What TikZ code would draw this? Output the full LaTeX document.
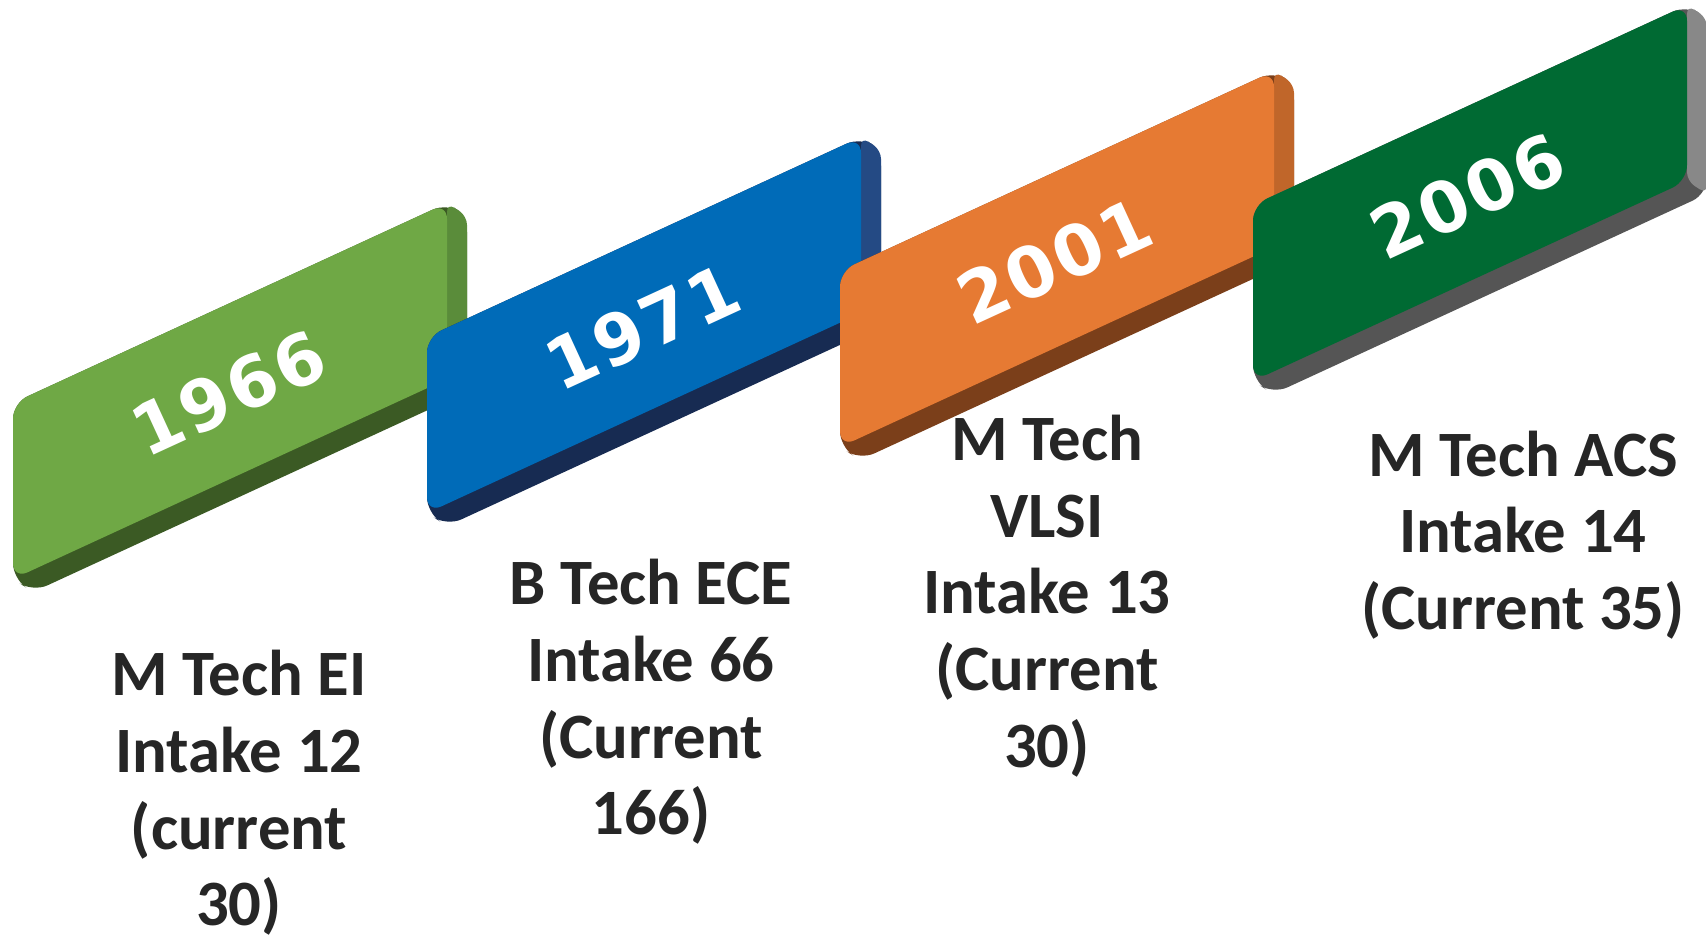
\documentclass[tikz,border=0pt]{standalone}
\usepackage{fontspec}
\setmainfont{Carlito}
\newfontfamily\yearfont[LetterSpace=4]{DejaVu Sans}
\definecolor{ink}{HTML}{262626}
\definecolor{grnface}{HTML}{6FA845}
\definecolor{grnside}{HTML}{5A8C3A}
\definecolor{grnbase}{HTML}{3B5A24}
\definecolor{bluface}{HTML}{006BB8}
\definecolor{bluside}{HTML}{244A84}
\definecolor{blubase}{HTML}{172B52}
\definecolor{orgface}{HTML}{E67A33}
\definecolor{orgside}{HTML}{C0662A}
\definecolor{orgbase}{HTML}{7B3F1A}
\definecolor{dgrface}{HTML}{006A33}
\definecolor{dgrside}{HTML}{888888}
\definecolor{dgrbase}{HTML}{555555}

\begin{document}
\begin{tikzpicture}[
  x=0.01cm, y=-0.01cm,
  slab/.style={fill=#1, rounded corners=4.5pt},
  edge/.style={fill=#1, rounded corners=2.5pt},
  year/.style={text=white, font=\yearfont\bfseries\fontsize{20}{20}\selectfont,
               rotate=24.7, inner sep=0pt},
  lbl/.style={text=ink, font=\bfseries\fontsize{18.4}{21.8}\selectfont,
              align=center, inner sep=0pt},
]
\useasboundingbox (0,0) rectangle (1706,936);

%% ---------------- 1966 ----------------
\fill[slab=grnbase] (13,403) -- ++(434,-200) -- ++(20,13) -- ++(0,176) -- ++(-434,200) -- ++(-20,-13) -- cycle;
\fill[edge=grnside] (447,203) -- ++(20,13) -- ++(0,176) -- ++(-20,-13) -- cycle;
\fill[slab=grnface] (13,403) -- ++(434,-200) -- ++(0,176) -- ++(-434,200) -- cycle;
\node[year] (y1966) at (229,393) {1966};

%% ---------------- 1971 ----------------
\fill[slab=blubase] (427,337) -- ++(434,-200) -- ++(20,13) -- ++(0,176) -- ++(-434,200) -- ++(-20,-13) -- cycle;
\fill[edge=bluside] (861,137) -- ++(20,13) -- ++(0,176) -- ++(-20,-13) -- cycle;
\fill[slab=bluface] (427,337) -- ++(434,-200) -- ++(0,176) -- ++(-434,200) -- cycle;
\node[year] (y1971) at (643,327) {1971};

%% ---------------- 2001 ----------------
\fill[slab=orgbase] (840,271) -- ++(434,-200) -- ++(20,13) -- ++(0,176) -- ++(-434,200) -- ++(-20,-13) -- cycle;
\fill[edge=orgside] (1274,71) -- ++(20,13) -- ++(0,176) -- ++(-20,-13) -- cycle;
\fill[slab=orgface] (840,271) -- ++(434,-200) -- ++(0,176) -- ++(-434,200) -- cycle;
\node[year] (y2001) at (1055,261) {2001};

%% ---------------- 2006 ----------------
\fill[slab=dgrbase] (1253,205) -- ++(434,-200) -- ++(20,13) -- ++(0,176) -- ++(-434,200) -- ++(-20,-13) -- cycle;
\fill[edge=dgrside] (1687,5) -- ++(20,13) -- ++(0,176) -- ++(-20,-13) -- cycle;
\fill[slab=dgrface] (1253,205) -- ++(434,-200) -- ++(0,176) -- ++(-434,200) -- cycle;
\node[year] (y2006) at (1468,196) {2006};

%% ---------------- programme labels ----------------
\node[lbl] (mtei)  at (239,793)  {M Tech EI\\Intake 12\\(current\\30)};
\node[lbl] (btece) at (651,702)  {B Tech ECE\\Intake 66\\(Current\\166)};
\node[lbl] (mtvl)  at (1047,596) {M Tech\\VLSI\\Intake 13\\(Current\\30)};
\node[lbl] (mtacs) at (1523,535) {M Tech ACS\\Intake 14\\(Current 35)};

\end{tikzpicture}
\end{document}
